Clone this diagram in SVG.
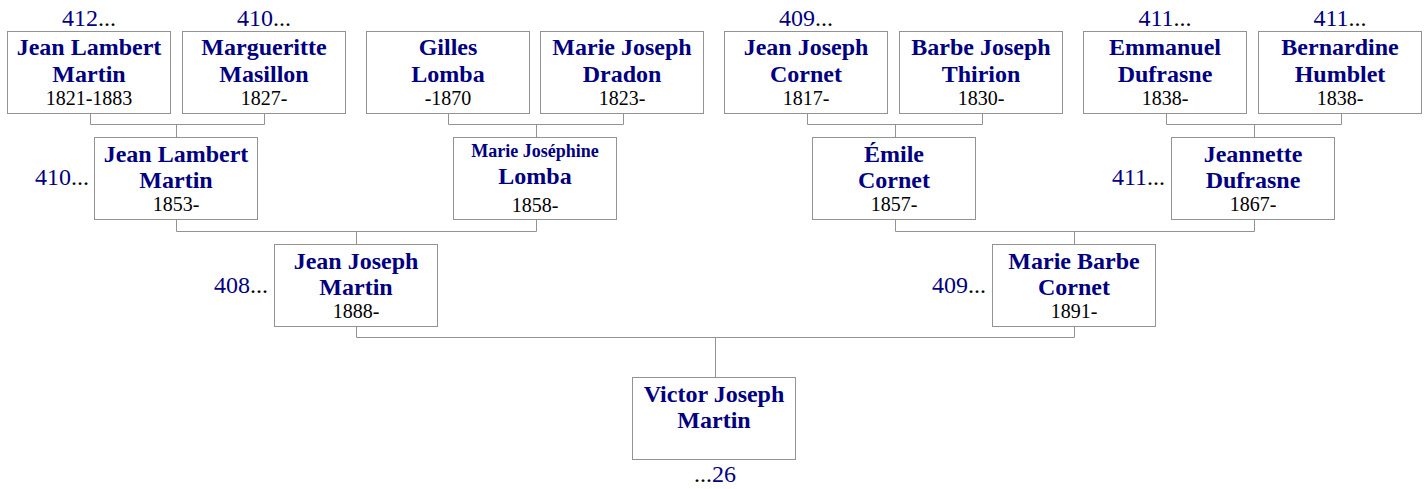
<svg xmlns="http://www.w3.org/2000/svg" width="1427" height="489" viewBox="0 0 1427 489">
<style>
.box{fill:#fff;stroke:#939393;stroke-width:1}
.nm{font-family:"Liberation Serif","Times New Roman",serif;font-weight:bold;font-size:24px;fill:#000080;text-anchor:middle}
.nms{font-size:18px}
.yr{font-family:"Liberation Serif","Times New Roman",serif;font-size:20px;fill:#000;text-anchor:middle}
.ref{font-family:"Liberation Serif","Times New Roman",serif;font-size:24px;fill:#000080}
.dots{fill:#000}
.mid{text-anchor:middle}
.end{text-anchor:end}
#connectors path{fill:none;stroke:#939393;stroke-width:1}
</style>
<rect width="1427" height="489" fill="#fff"/>
<g id="connectors">
<path d="M90.5 113.5V124.5H264.5V113.5M176.5 124.5V137.5"/>
<path d="M448.5 113.5V124.5H623.5V113.5M536.5 124.5V137.5"/>
<path d="M807.5 113.5V124.5H982.5V113.5M895.5 124.5V137.5"/>
<path d="M1166.5 113.5V124.5H1341.5V113.5M1254.5 124.5V137.5"/>
<path d="M176.5 219.5V231.5H536.5V219.5M356.5 231.5V244.5"/>
<path d="M895.5 219.5V231.5H1254.5V219.5M1074.5 231.5V244.5"/>
<path d="M356.5 326.5V337.5H1074.5V326.5M715.5 337.5V377.5"/>
</g>
<g id="n412">
<text class="ref mid" x="89" y="26">412<tspan class="dots">...</tspan></text>
<rect class="box" x="7.5" y="31.5" width="163" height="82"/>
<text class="nm" x="89" y="55">Jean Lambert</text>
<text class="nm" x="89" y="81.5">Martin</text>
<text class="yr" x="89" y="105">1821-1883</text>
</g>
<g id="n413">
<text class="ref mid" x="264" y="26">410<tspan class="dots">...</tspan></text>
<rect class="box" x="182.5" y="31.5" width="163" height="82"/>
<text class="nm" x="264" y="55">Margueritte</text>
<text class="nm" x="264" y="81.5">Masillon</text>
<text class="yr" x="264" y="105">1827-</text>
</g>
<g id="n414">
<rect class="box" x="366.5" y="31.5" width="163" height="82"/>
<text class="nm" x="448" y="55">Gilles</text>
<text class="nm" x="448" y="81.5">Lomba</text>
<text class="yr" x="448" y="105">-1870</text>
</g>
<g id="n415">
<rect class="box" x="540.5" y="31.5" width="163" height="82"/>
<text class="nm" x="622" y="55">Marie Joseph</text>
<text class="nm" x="622" y="81.5">Dradon</text>
<text class="yr" x="622" y="105">1823-</text>
</g>
<g id="n416">
<text class="ref mid" x="806" y="26">409<tspan class="dots">...</tspan></text>
<rect class="box" x="724.5" y="31.5" width="163" height="82"/>
<text class="nm" x="806" y="55">Jean Joseph</text>
<text class="nm" x="806" y="81.5">Cornet</text>
<text class="yr" x="806" y="105">1817-</text>
</g>
<g id="n417">
<rect class="box" x="899.5" y="31.5" width="163" height="82"/>
<text class="nm" x="981" y="55">Barbe Joseph</text>
<text class="nm" x="981" y="81.5">Thirion</text>
<text class="yr" x="981" y="105">1830-</text>
</g>
<g id="n418">
<text class="ref mid" x="1165" y="26">411<tspan class="dots">...</tspan></text>
<rect class="box" x="1083.5" y="31.5" width="163" height="82"/>
<text class="nm" x="1165" y="55">Emmanuel</text>
<text class="nm" x="1165" y="81.5">Dufrasne</text>
<text class="yr" x="1165" y="105">1838-</text>
</g>
<g id="n419">
<text class="ref mid" x="1340" y="26">411<tspan class="dots">...</tspan></text>
<rect class="box" x="1258.5" y="31.5" width="163" height="82"/>
<text class="nm" x="1340" y="55">Bernardine</text>
<text class="nm" x="1340" y="81.5">Humblet</text>
<text class="yr" x="1340" y="105">1838-</text>
</g>
<g id="n420">
<text class="ref end" x="89" y="185">410<tspan class="dots">...</tspan></text>
<rect class="box" x="94.5" y="137.5" width="163" height="82"/>
<text class="nm" x="176" y="161.5">Jean Lambert</text>
<text class="nm" x="176" y="188">Martin</text>
<text class="yr" x="176" y="211">1853-</text>
</g>
<g id="n421">
<rect class="box" x="453.5" y="137.5" width="163" height="82"/>
<text class="nm nms" x="535" y="156.5">Marie Joséphine</text>
<text class="nm" x="535" y="183.5">Lomba</text>
<text class="yr" x="535" y="211.5">1858-</text>
</g>
<g id="n422">
<rect class="box" x="812.5" y="137.5" width="163" height="82"/>
<text class="nm" x="894" y="161.5">Émile</text>
<text class="nm" x="894" y="188">Cornet</text>
<text class="yr" x="894" y="211">1857-</text>
</g>
<g id="n423">
<text class="ref end" x="1165" y="185">411<tspan class="dots">...</tspan></text>
<rect class="box" x="1171.5" y="137.5" width="163" height="82"/>
<text class="nm" x="1253" y="161.5">Jeannette</text>
<text class="nm" x="1253" y="188">Dufrasne</text>
<text class="yr" x="1253" y="211">1867-</text>
</g>
<g id="n424">
<text class="ref end" x="268" y="293">408<tspan class="dots">...</tspan></text>
<rect class="box" x="274.5" y="244.5" width="163" height="82"/>
<text class="nm" x="356" y="268.5">Jean Joseph</text>
<text class="nm" x="356" y="295">Martin</text>
<text class="yr" x="356" y="318">1888-</text>
</g>
<g id="n425">
<text class="ref end" x="986" y="293">409<tspan class="dots">...</tspan></text>
<rect class="box" x="992.5" y="244.5" width="163" height="82"/>
<text class="nm" x="1074" y="268.5">Marie Barbe</text>
<text class="nm" x="1074" y="295">Cornet</text>
<text class="yr" x="1074" y="318">1891-</text>
</g>
<g id="n426">
<rect class="box" x="632.5" y="377.5" width="163" height="82"/>
<text class="nm" x="714" y="401.5">Victor Joseph</text>
<text class="nm" x="714" y="428">Martin</text>
<text class="ref mid" x="715" y="482"><tspan class="dots">...</tspan>26</text>
</g>
</svg>
